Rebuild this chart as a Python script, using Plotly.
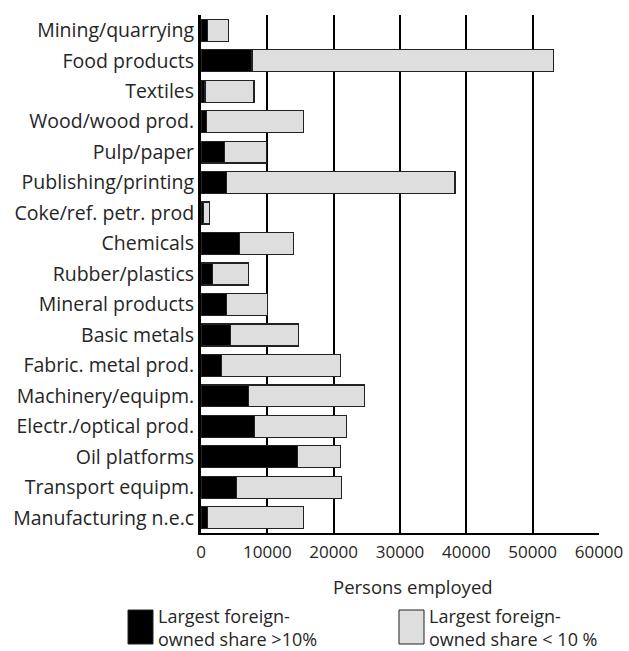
import plotly.graph_objects as go

categories = ["Mining/quarrying", "Food products", "Textiles", "Wood/wood prod.",
              "Pulp/paper", "Publishing/printing", "Coke/ref. petr. prod", "Chemicals",
              "Rubber/plastics", "Mineral products", "Basic metals", "Fabric. metal prod.",
              "Machinery/equipm.", "Electr./optical prod.", "Oil platforms",
              "Transport equipm.", "Manufacturing n.e.c"]
foreign_gt10 = [1000, 7700, 600, 800, 3500, 3800, 400, 5800, 1700, 3900, 4400, 3050,
                7100, 8100, 14600, 5400, 1000]
totals = [4100, 53200, 8000, 15500, 9900, 38300, 1250, 13900, 7100, 10000, 14700, 21000,
          24700, 21900, 21000, 21200, 15500]
foreign_lt10 = [t - b for t, b in zip(totals, foreign_gt10)]
x_ticks = [0, 10000, 20000, 30000, 40000, 50000, 60000]
x_title = "Persons employed"
legend_labels = ["Largest foreign-<br>owned share >10%",
                 "Largest foreign-<br>owned share < 10 %"]

FONT = "Open Sans, Noto Sans, sans-serif"
TXT = "#262626"
W, H = 629, 651

fig = go.Figure()
fig.add_trace(go.Bar(y=categories, x=foreign_gt10, orientation="h", name="gt10",
                     marker=dict(color="#000000", line=dict(color="#222222", width=1.2)),
                     showlegend=False))
fig.add_trace(go.Bar(y=categories, x=foreign_lt10, orientation="h", name="lt10",
                     marker=dict(color="#dedede", line=dict(color="#222222", width=1.2)),
                     showlegend=False))

# target plot area (page px): x 201..599, y 15..533
PL, PR, PT, PB = 201, 599, 15, 533
fig.update_layout(
    width=W, height=H,
    barmode="stack", bargap=0.28,
    plot_bgcolor="white", paper_bgcolor="white",
    margin=dict(l=PL, r=W - PR, t=PT, b=H - PB, autoexpand=False),
    font=dict(family=FONT, size=19, color=TXT),
    xaxis=dict(range=[0, 60000], tickvals=x_ticks, ticktext=[str(v) for v in x_ticks],
               showgrid=True, gridcolor="#000000", gridwidth=2,
               showline=True, linecolor="#000000", linewidth=2,
               zeroline=False, ticks="", tickfont=dict(size=17, color=TXT),
               ticklabelstandoff=3),
    yaxis=dict(autorange="reversed", showline=True, linecolor="#000000", linewidth=3,
               ticks="", showgrid=False, tickfont=dict(size=19.5, color=TXT),
               ticklabelstandoff=0),
)

def px_x(X):
    return (X - PL) / (PR - PL)

def px_y(Y):
    return (PB - Y) / (PB - PT)

fig.add_annotation(xref="paper", yref="paper", x=px_x(413), y=px_y(586),
                   xanchor="center", yanchor="middle", showarrow=False,
                   text=x_title, font=dict(size=18.5, color=TXT, family=FONT))

# legend drawn manually (large swatches)
sw = [(128, 153, "#000000", 156), (399, 424, "#dedede", 427)]
for (x0, x1, col, tx), lab in zip(sw, legend_labels):
    fig.add_shape(type="rect", xref="paper", yref="paper",
                  x0=px_x(x0), x1=px_x(x1), y0=px_y(644), y1=px_y(610),
                  fillcolor=col, line=dict(color="#222222", width=1))
    fig.add_annotation(xref="paper", yref="paper", x=px_x(tx), y=px_y(627),
                       xanchor="left", yanchor="middle", align="left", showarrow=False,
                       text=lab, font=dict(size=18, color=TXT, family=FONT))

fig.write_html("out.html",
               config={"displayModeBar": False},
               post_script="document.body.style.margin='0';"
                           "document.body.style.overflow='hidden';")
